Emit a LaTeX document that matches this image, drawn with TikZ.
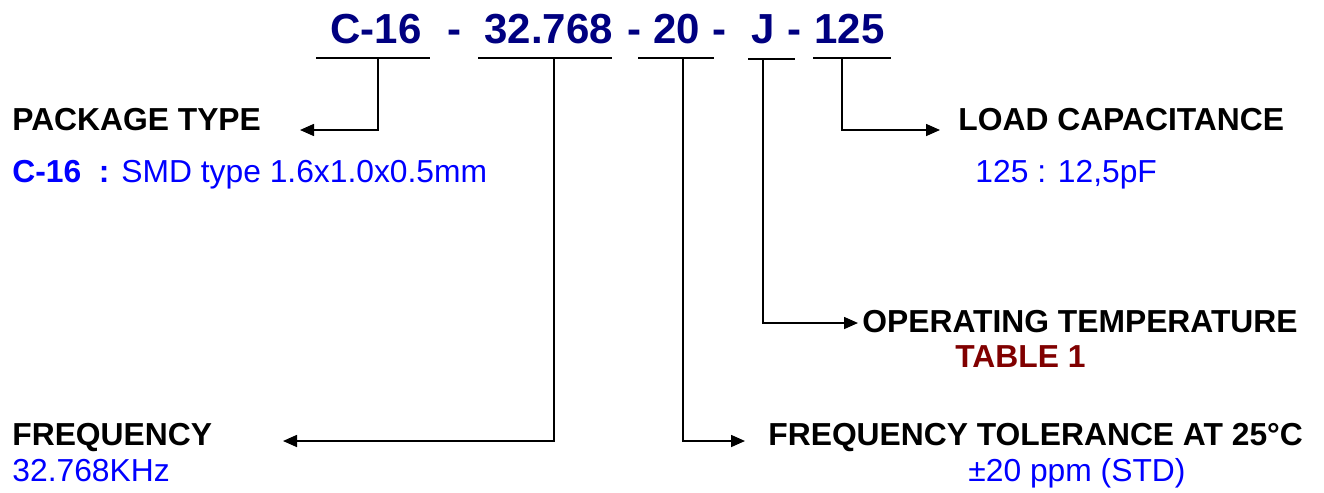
\documentclass[tikz,border=0pt]{standalone}
\usepackage{fontspec}
\setmainfont{Liberation Sans}
\usetikzlibrary{arrows.meta,positioning}
\definecolor{codenavy}{RGB}{0,0,128}
\definecolor{valblue}{RGB}{0,0,255}
\definecolor{tabred}{RGB}{128,0,0}
\tikzset{
  codepart/.style={font=\fontsize{21}{25}\selectfont\bfseries, text=codenavy,
                   inner sep=0pt, anchor=base west},
  head/.style    ={font=\fontsize{15.9}{19}\selectfont\bfseries,
                   inner sep=0pt, anchor=base west},
  val/.style     ={font=\fontsize{15.9}{19}\selectfont, text=valblue,
                   inner sep=0pt, anchor=base west},
  uline/.style   ={line width=1.4pt},
  lead/.style    ={-{Triangle[length=7pt,width=6pt]}, line width=0.8pt},
}

\begin{document}
\begin{tikzpicture}[x=0.5pt, y=-0.5pt]
  \useasboundingbox (0,0) rectangle (1324,493);
  % part number
  \node[codepart] (cpkg)  at (330,43) {C-16};
  \node[codepart] (dash1) at (447,43) {-};
  \node[codepart] (cfreq) at (484,43) {32.768};
  \node[codepart] (dash2) at (627,43) {-};
  \node[codepart] (ctol)  at (653,43) {20};
  \node[codepart] (dash3) at (712,43) {-};
  \node[codepart] (ctemp) at (751,43) {J};
  \node[codepart] (dash4) at (787,43) {-};
  \node[codepart] (cload) at (814,43) {125};
  % underlines
  \draw[uline] (316,58) -- (430,58);
  \draw[uline] (478,58) -- (612,58);
  \draw[uline] (638,58) -- (714,58);
  \draw[uline] (748,59) -- (795,59);
  \draw[uline] (813,58) -- (891,58);
  \coordinate (tpkg)  at (378,58);
  \coordinate (tfreq) at (554,58);
  \coordinate (ttol)  at (683,58);
  \coordinate (ttemp) at (763,59);
  \coordinate (tload) at (842,58);
  % arrow ends
  \coordinate (apkg)  at (300,130);
  \coordinate (afreq) at (283,441);
  \coordinate (atol)  at (745,441);
  \coordinate (atemp) at (858,323);
  \coordinate (aload) at (940,130);
  % fields
  \node[head] (pkghd)  at (12,130) {PACKAGE TYPE};
  \node[val]  (pkgval) at (12,182) {\textbf{C-16\ \ :} SMD type 1.6x1.0x0.5mm};
  \node[head] (loadhd)  at (958,130) {LOAD CAPACITANCE};
  \node[val]  (loadval) at (975,182) {125 : 12,5pF};
  \node[head] (temphd)  at (862,332) {OPERATING TEMPERATURE};
  \node[head, text=tabred] (tempval) at (955,367) {TABLE 1};
  \node[head] (freqhd)  at (12,445) {FREQUENCY};
  \node[val]  (freqval) at (12,481) {32.768KHz};
  \node[head] (tolhd)   at (768,445) {FREQUENCY TOLERANCE AT 25°C};
  \node[val]  (tolval)  at (968,481) {±20 ppm (STD)};
  % leads
  \draw[lead] (tpkg)  |- (apkg);
  \draw[lead] (tfreq) |- (afreq);
  \draw[lead] (ttol)  |- (atol);
  \draw[lead] (ttemp) |- (atemp);
  \draw[lead] (tload) |- (aload);
\end{tikzpicture}
\end{document}
